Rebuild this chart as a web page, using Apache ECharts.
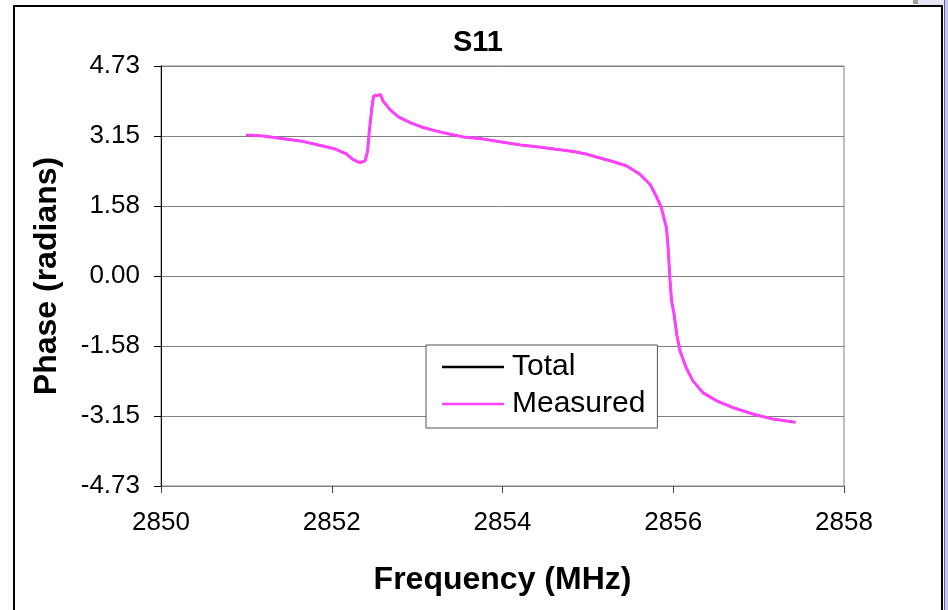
<!DOCTYPE html>
<html>
<head>
<meta charset="utf-8">
<script src="https://cdn.jsdelivr.net/npm/echarts@6/dist/echarts.min.js"></script>
<style>
  html, body { margin: 0; padding: 0; background: #fff; }
  #chart { width: 948px; height: 610px; }
</style>
</head>
<body>
<div id="chart"></div>
<script>
// S11 phase versus frequency
const freqMHz = [
  2851.00, 2851.20, 2851.39, 2851.63, 2851.82, 2852.02, 2852.17, 2852.25, 2852.33,
  2852.39, 2852.42, 2852.44, 2852.47, 2852.49, 2852.57, 2852.60, 2852.68, 2852.78,
  2852.92, 2853.07, 2853.23, 2853.39, 2853.54, 2853.78, 2853.97, 2854.21, 2854.40,
  2854.63, 2854.83, 2854.99, 2855.06, 2855.30, 2855.45, 2855.61, 2855.73, 2855.81,
  2855.86, 2855.92, 2855.94, 2855.96, 2855.98, 2856.01, 2856.04, 2856.08, 2856.15,
  2856.23, 2856.35, 2856.51, 2856.70, 2856.94, 2857.17, 2857.43
];
const phaseTotal = [
  3.17, 3.15, 3.10, 3.04, 2.96, 2.87, 2.75, 2.62, 2.55,
  2.59, 2.81, 3.26, 3.79, 4.05, 4.08, 3.94, 3.75, 3.58,
  3.45, 3.34, 3.26, 3.19, 3.13, 3.08, 3.02, 2.95, 2.91,
  2.85, 2.80, 2.74, 2.70, 2.57, 2.48, 2.29, 2.06, 1.76,
  1.54, 1.09, 0.64, -0.04, -0.56, -0.86, -1.31, -1.69, -2.06,
  -2.36, -2.63, -2.81, -2.96, -3.11, -3.22, -3.29
];
const phaseMeasured = [
  3.17, 3.15, 3.10, 3.04, 2.96, 2.87, 2.75, 2.62, 2.55,
  2.59, 2.81, 3.26, 3.79, 4.05, 4.08, 3.94, 3.75, 3.58,
  3.45, 3.34, 3.26, 3.19, 3.13, 3.08, 3.02, 2.95, 2.91,
  2.85, 2.80, 2.74, 2.70, 2.57, 2.48, 2.29, 2.06, 1.76,
  1.54, 1.09, 0.64, -0.04, -0.56, -0.86, -1.31, -1.69, -2.06,
  -2.36, -2.63, -2.81, -2.96, -3.11, -3.22, -3.29
];
const yTickStep = 1.575;
const yTickLabels = ['-4.73', '-3.15', '-1.58', '0.00', '1.58', '3.15', '4.73'];
const xTicks = { min: 2850, max: 2858, step: 2 };

const FONT = '"Liberation Sans", Arial, sans-serif';

const toPairs = (xs, ys) => xs.map((x, i) => [x, ys[i]]);

const chart = echarts.init(document.getElementById('chart'), null, { renderer: 'canvas' });

chart.setOption({
  animation: false,
  backgroundColor: '#ffffff',
  textStyle: { fontFamily: FONT, color: '#000' },
  title: {
    text: 'S11',
    left: 478,
    top: 28,
    textAlign: 'center',
    padding: 0,
    textStyle: { fontFamily: FONT, fontSize: 29, fontWeight: 'bold', color: '#000' }
  },
  grid: {
    left: 161, right: 104, top: 66, bottom: 124,
    show: true, borderColor: '#808080', borderWidth: 1, backgroundColor: 'transparent',
    containLabel: false
  },
  legend: {
    orient: 'vertical',
    left: 426,
    top: 345,
    padding: [7, 12, 9, 16],
    itemGap: 7,
    itemWidth: 62,
    itemHeight: 2.5,
    icon: 'rect',
    backgroundColor: '#fff',
    borderColor: '#555',
    borderWidth: 1,
    borderRadius: 0,
    textStyle: { fontFamily: FONT, fontSize: 30, color: '#000', padding: [0, 0, 0, 3] },
    data: ['Total', 'Measured']
  },
  xAxis: {
    type: 'value',
    min: xTicks.min,
    max: xTicks.max,
    interval: xTicks.step,
    name: 'Frequency (MHz)',
    nameLocation: 'middle',
    nameGap: 78,
    nameTextStyle: { fontFamily: FONT, fontSize: 32, fontWeight: 'bold', color: '#000' },
    axisLine: { show: true, onZero: false, lineStyle: { color: '#808080', width: 1 } },
    axisTick: { show: true, inside: false, length: 7, lineStyle: { color: '#404040' } },
    axisLabel: {
      fontFamily: FONT, fontSize: 26, color: '#000', margin: 24,
      formatter: (v) => String(v)
    },
    splitLine: { show: false }
  },
  yAxis: {
    type: 'value',
    min: -3 * yTickStep,
    max: 3 * yTickStep,
    interval: yTickStep,
    name: 'Phase (radians)',
    nameLocation: 'middle',
    nameGap: 98,
    nameRotate: 90,
    nameTextStyle: { fontFamily: FONT, fontSize: 32, fontWeight: 'bold', color: '#000' },
    axisLine: { show: true, onZero: false, lineStyle: { color: '#000', width: 1 } },
    axisTick: { show: true, inside: false, length: 7, lineStyle: { color: '#000' } },
    axisLabel: {
      fontFamily: FONT, fontSize: 26, color: '#000', margin: 21,
      formatter: (v) => yTickLabels[Math.round(v / yTickStep) + 3]
    },
    splitLine: { show: true, lineStyle: { color: '#808080', width: 1 } }
  },
  series: [
    {
      name: 'Total',
      type: 'line',
      data: toPairs(freqMHz, phaseTotal),
      symbol: 'none',
      lineStyle: { color: '#000000', width: 2 },
      itemStyle: { color: '#000000' },
      z: 2
    },
    {
      name: 'Measured',
      type: 'line',
      data: toPairs(freqMHz, phaseMeasured),
      symbol: 'none',
      lineStyle: { color: '#ff40ff', width: 3 },
      itemStyle: { color: '#ff40ff' },
      z: 3
    }
  ],
  graphic: [
    {
      type: 'rect',
      shape: { x: 14, y: 6, width: 928, height: 640 },
      style: { fill: 'none', stroke: '#000', lineWidth: 2 },
      silent: true
    },
    {
      type: 'rect',
      shape: { x: 918, y: 0, width: 30, height: 5 },
      style: { fill: '#e4e4f4' },
      silent: true
    },
    {
      type: 'rect',
      shape: { x: 913, y: 0, width: 5, height: 4 },
      style: { fill: '#a0a0a0' },
      silent: true
    },
    {
      type: 'rect',
      shape: { x: 944, y: 0, width: 1, height: 610 },
      style: { fill: '#6060a0' },
      silent: true
    },
    {
      type: 'rect',
      shape: { x: 945, y: 0, width: 3, height: 610 },
      style: { fill: '#c8c8ec' },
      silent: true
    }
  ]
});
</script>
</body>
</html>
